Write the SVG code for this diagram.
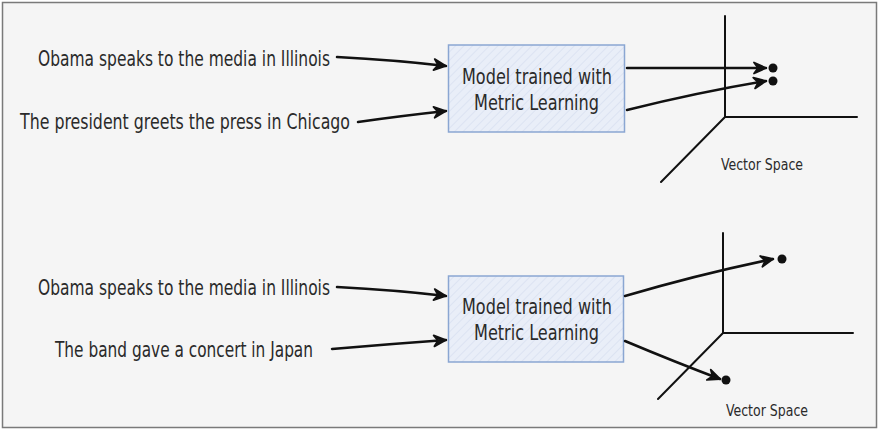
<svg xmlns="http://www.w3.org/2000/svg" width="880" height="432" viewBox="0 0 880 432">
<style>
.t{font-family:"DejaVu Sans Condensed","Liberation Sans",Arial,sans-serif;font-size:21px;fill:#2a2a2a}
.m{font-family:"DejaVu Sans Condensed","Liberation Sans",Arial,sans-serif;font-size:21px;fill:#2a2a2a;text-anchor:middle}
.v{font-family:"DejaVu Sans Condensed","Liberation Sans",Arial,sans-serif;font-size:16px;fill:#2a2a2a}
.box{fill:url(#hatch);stroke:#8aa6d2;stroke-width:1.5}
.c{fill:none;stroke:#111;stroke-width:2.5;stroke-linecap:round;marker-end:url(#ah)}
.ax{fill:none;stroke:#111;stroke-width:2;stroke-linecap:round}
.dot{fill:#111}
</style>
<defs>
<pattern id="hatch" patternUnits="userSpaceOnUse" width="6" height="6" patternTransform="rotate(45)">
<rect width="6" height="6" fill="#e9eef8"/>
<line x1="0" y1="0" x2="0" y2="6" stroke="#d3ddef" stroke-width="1.2"/>
</pattern>
<marker id="ah" markerUnits="userSpaceOnUse" markerWidth="16" markerHeight="14" refX="12" refY="6" orient="auto" overflow="visible">
<path d="M0,0.5 L12,6 L0,11.5 L4,6 Z M2,3 L9,6 L2,9" fill="none" stroke="#111" stroke-width="1.8" stroke-linejoin="round"/>
</marker>
</defs>
<rect x="2.5" y="2.5" width="874" height="425" fill="#f5f5f5" stroke="#7a7a7a" stroke-width="1.5"/>

<g id="top-in1"><text class="t" x="38" y="66" textLength="292" lengthAdjust="spacingAndGlyphs">Obama speaks to the media in Illinois</text></g>
<g id="top-in2"><text class="t" x="20" y="129" textLength="330" lengthAdjust="spacingAndGlyphs">The president greets the press in Chicago</text></g>
<g id="top-model">
<rect class="box" x="448.5" y="45" width="176" height="87"/>
<text class="m" x="537" y="84" textLength="150" lengthAdjust="spacingAndGlyphs">Model trained with</text>
<text class="m" x="536.5" y="110" textLength="125" lengthAdjust="spacingAndGlyphs">Metric Learning</text>
</g>
<g id="top-space">
<path class="ax" d="M725,16 L725,117 L857,117 M725,117 L661,182"/>
<circle class="dot" cx="773" cy="68" r="4.5"/>
<circle class="dot" cx="773" cy="81" r="4.5"/>
<text class="v" x="721" y="170" textLength="82" lengthAdjust="spacingAndGlyphs">Vector Space</text>
</g>

<g id="bot-in1"><text class="t" x="38" y="295" textLength="292" lengthAdjust="spacingAndGlyphs">Obama speaks to the media in Illinois</text></g>
<g id="bot-in2"><text class="t" x="55" y="357" textLength="258" lengthAdjust="spacingAndGlyphs">The band gave a concert in Japan</text></g>
<g id="bot-model">
<rect class="box" x="448.5" y="276" width="175" height="86"/>
<text class="m" x="537" y="314" textLength="150" lengthAdjust="spacingAndGlyphs">Model trained with</text>
<text class="m" x="536.5" y="340" textLength="125" lengthAdjust="spacingAndGlyphs">Metric Learning</text>
</g>
<g id="bot-space">
<path class="ax" d="M723,233 L723,333 L853,333 M723,333 L658,399"/>
<circle class="dot" cx="782" cy="259" r="4.5"/>
<circle class="dot" cx="726" cy="380" r="4.5"/>
<text class="v" x="726" y="416" textLength="82" lengthAdjust="spacingAndGlyphs">Vector Space</text>
</g>

<g id="connectors">
<path class="c" d="M337,57 Q395,60 446,66"/>
<path class="c" d="M358,122 Q400,116 446,111"/>
<path class="c" d="M627,68 L766,68"/>
<path class="c" d="M627,110 Q700,92 766,81"/>
<path class="c" d="M337,287 Q395,290 446,296"/>
<path class="c" d="M332,349 Q390,344 446,340"/>
<path class="c" d="M625,296 Q700,274 773,259"/>
<path class="c" d="M625,341 Q675,362 720,379"/>
</g>
</svg>
